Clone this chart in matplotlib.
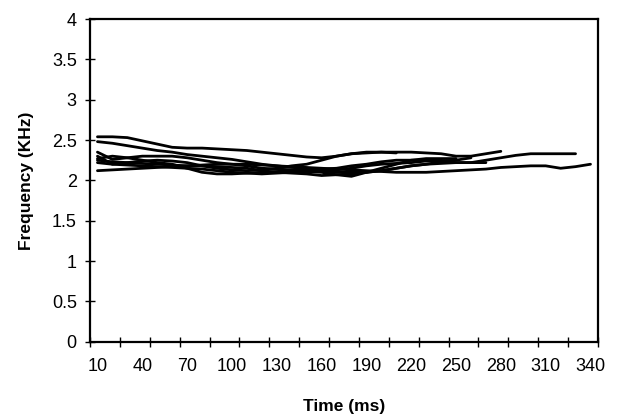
import matplotlib
matplotlib.use("Agg")
import matplotlib.pyplot as plt
import numpy as np

plt.rcParams['font.family'] = ['Liberation Sans', 'DejaVu Sans']

# frequency traces (KHz), sampled every 10 ms starting at 10 ms
s1 = [2.54, 2.54, 2.53, 2.49, 2.45, 2.41, 2.40, 2.40, 2.39, 2.38, 2.37, 2.35, 2.33,
      2.31, 2.29, 2.28, 2.30, 2.33, 2.35, 2.35, 2.34]
s2 = [2.48, 2.46, 2.43, 2.40, 2.37, 2.35, 2.32, 2.30, 2.28, 2.26, 2.23, 2.20, 2.18,
      2.17, 2.16, 2.15, 2.14, 2.13, 2.12, 2.11, 2.10, 2.10, 2.10, 2.11, 2.12, 2.13,
      2.14, 2.16, 2.17, 2.18, 2.18, 2.15, 2.17, 2.20]
s3 = [2.35, 2.26, 2.28, 2.30, 2.30, 2.30, 2.28, 2.25, 2.22, 2.20, 2.18, 2.15, 2.14,
      2.13, 2.13, 2.14, 2.15, 2.18, 2.20, 2.23, 2.25, 2.25, 2.25, 2.24, 2.22, 2.22,
      2.25, 2.28, 2.31, 2.33, 2.33, 2.33, 2.33]
s4 = [2.30, 2.20, 2.22, 2.24, 2.25, 2.24, 2.22, 2.18, 2.15, 2.13, 2.12, 2.13, 2.15,
      2.18, 2.20, 2.25, 2.30, 2.33, 2.34, 2.35, 2.35, 2.35, 2.34, 2.33, 2.30, 2.30,
      2.33, 2.36]
s5 = [2.27, 2.30, 2.28, 2.25, 2.22, 2.20, 2.15, 2.10, 2.08, 2.08, 2.09, 2.10, 2.11,
      2.12, 2.11, 2.10, 2.07, 2.05, 2.10, 2.15, 2.20, 2.25, 2.27, 2.27, 2.27]
s6 = [2.12, 2.13, 2.14, 2.15, 2.16, 2.17, 2.18, 2.18, 2.17, 2.16, 2.15, 2.12, 2.10,
      2.09, 2.08, 2.06, 2.07, 2.08, 2.10, 2.12, 2.15, 2.18, 2.20, 2.21, 2.22, 2.22,
      2.22]
s7 = [2.25, 2.23, 2.22, 2.21, 2.20, 2.19, 2.18, 2.19, 2.20, 2.20, 2.20, 2.19, 2.18,
      2.16, 2.15, 2.12, 2.10, 2.10, 2.10, 2.12, 2.15, 2.18, 2.20, 2.23, 2.25, 2.28]
s8 = [2.22, 2.20, 2.19, 2.18, 2.17, 2.16, 2.15, 2.14, 2.12, 2.10, 2.09, 2.08, 2.09,
      2.10, 2.11, 2.12, 2.13, 2.15, 2.18, 2.20, 2.21, 2.22, 2.24, 2.25]
series = [s1, s2, s3, s4, s5, s6, s7, s8]

x_labels = list(range(10, 341, 30))
y_ticks = [0, 0.5, 1, 1.5, 2, 2.5, 3, 3.5, 4]

fig = plt.figure(figsize=(6.18, 4.18), dpi=100)
ax = fig.add_axes([0.1456, 0.1825, 0.822, 0.772])

for s in series:
    t = 10 + 10 * np.arange(len(s))
    ax.plot(t, s, color='black', lw=2.0, solid_capstyle='round', solid_joinstyle='round')

ax.set_xlim(5, 345)
ax.set_ylim(0, 4)

# labels every 30 ms (no marks), tick marks every 20 ms between categories
ax.set_xticks(x_labels)
ax.set_xticklabels([str(v) for v in x_labels])
ax.set_xticks(np.arange(5, 346, 20), minor=True)
ax.tick_params(axis='x', which='major', length=0, pad=12, labelsize=13)
ax.tick_params(axis='x', which='minor', direction='inout', length=7, width=1)

ax.set_yticks(y_ticks)
ax.set_yticklabels(['0', '0.5', '1', '1.5', '2', '2.5', '3', '3.5', '4'])
ax.tick_params(axis='y', direction='inout', length=7, width=1, labelsize=13, pad=6)

for sp in ax.spines.values():
    sp.set_linewidth(1.6)

ax.set_xlabel('Time (ms)', fontsize=12.5, fontweight='bold', labelpad=17)
ax.set_ylabel('Frequency (KHz)', fontsize=12.5, fontweight='bold', labelpad=13)

fig.savefig('out.png', dpi=100)
